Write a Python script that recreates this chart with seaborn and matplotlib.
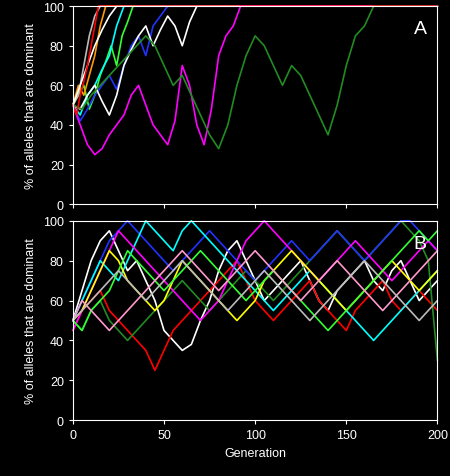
import matplotlib
matplotlib.use("Agg")
import matplotlib.pyplot as plt
import seaborn as sns
import pandas as pd

# --- Panel A: trajectories until fixation (then held at 100) ---
a_red = [50, 45, 55, 62, 70, 80, 90, 100]                      # step 2
a_lime = [50, 55, 60, 48, 55, 65, 72, 80, 70, 85, 92, 100]      # step 3
a_gray = [50, 55, 70, 85, 95, 100]                              # step 3
a_orange = [50, 60, 55, 65, 75, 90, 100]                        # step 3
a_cyan = [50, 45, 55, 60, 68, 75, 90, 100]                      # step 4
a_blue = [50, 42, 48, 55, 60, 65, 58, 70, 80, 85, 75, 90, 95, 100]  # step 4
a_white2 = [50, 60, 70, 80, 88, 95, 100]                        # step 4
a_white = [50, 48, 55, 60, 52, 45, 55, 70, 78, 85, 90, 80, 88, 95, 90,
           80, 92, 100, 100]                                    # step 4
a_magenta = [50, 40, 30, 25, 28, 35, 40, 45, 55, 60, 50, 40, 35, 30, 42,
             70, 60, 40, 30, 48, 75, 85, 90, 100]               # step 4
a_green = [50, 48, 55, 60, 65, 70, 75, 80, 85, 80, 70, 60, 65, 55, 45, 35,
           28, 40, 60, 75, 85, 80, 70, 60, 70, 65, 55, 45, 35, 50, 70, 85,
           90, 100]                                             # step 5

series_a = [
    (a_lime, 3, "#33ff33"), (a_gray, 3, "#bbbbbb"), (a_orange, 3, "#ff9900"),
    (a_cyan, 4, "#00ffff"), (a_blue, 4, "#2233ff"), (a_white2, 4, "#ffffff"),
    (a_white, 4, "#ffffff"), (a_magenta, 4, "#ff00ff"), (a_green, 5, "#228b22"),
    (a_red, 2, "#ff0000"),
]

# --- Panel B: 200 generations, sampled every 5 ---
b_lines = {
    "#ffffff": [50, 65, 80, 90, 95, 85, 75, 80, 70, 60, 45, 40, 35, 38, 50,
                60, 75, 85, 90, 80, 70, 60, 65, 70, 75, 80, 70, 60, 55, 65,
                70, 75, 80, 70, 65, 75, 80, 70, 60, 65, 70],
    "#ff0000": [45, 55, 60, 65, 55, 50, 45, 40, 35, 25, 35, 45, 50, 55, 60,
                65, 70, 75, 80, 70, 60, 55, 50, 55, 60, 65, 70, 60, 55, 50,
                45, 55, 60, 65, 70, 60, 55, 60, 65, 60, 55],
    "#228b22": [50, 45, 55, 60, 50, 45, 40, 45, 50, 55, 60, 65, 70, 65, 60,
                55, 60, 65, 70, 75, 70, 65, 60, 65, 70, 75, 80, 85, 90, 95,
                90, 85, 80, 85, 90, 95, 100, 95, 90, 80, 30],
    "#2233ff": [50, 60, 70, 80, 90, 95, 100, 95, 90, 85, 80, 75, 80, 85, 90,
                95, 90, 85, 80, 75, 70, 75, 80, 85, 90, 85, 80, 85, 90, 95,
                90, 85, 80, 85, 90, 95, 100, 100, 95, 90, 85],
    "#00ffff": [50, 60, 70, 80, 75, 70, 80, 90, 100, 95, 90, 85, 95, 100, 95,
                90, 85, 80, 75, 70, 65, 60, 55, 60, 65, 70, 75, 70, 65, 60,
                55, 50, 45, 40, 45, 50, 55, 60, 65, 70, 75],
    "#ff00ff": [45, 55, 65, 75, 85, 95, 90, 85, 80, 75, 70, 65, 60, 55, 50,
                55, 60, 70, 80, 90, 95, 100, 95, 90, 85, 80, 75, 70, 75, 80,
                85, 90, 85, 80, 75, 70, 75, 80, 85, 90, 85],
    "#ffff00": [50, 55, 65, 75, 85, 80, 70, 65, 60, 55, 60, 70, 80, 75, 70,
                65, 60, 55, 50, 55, 60, 70, 75, 80, 85, 80, 75, 70, 65, 60,
                55, 60, 65, 70, 75, 80, 75, 70, 65, 70, 75],
    "#33ff33": [50, 45, 55, 60, 65, 75, 85, 80, 75, 70, 65, 70, 75, 80, 85,
                80, 75, 70, 65, 60, 65, 70, 75, 70, 65, 60, 55, 50, 45, 50,
                55, 60, 65, 70, 75, 80, 85, 90, 95, 90, 95],
    "#ff99cc": [50, 60, 55, 50, 45, 50, 55, 60, 65, 70, 75, 80, 85, 80, 75,
                70, 65, 70, 75, 80, 85, 80, 75, 70, 65, 60, 65, 70, 75, 80,
                75, 70, 65, 60, 55, 60, 65, 70, 75, 80, 85],
    "#bbbbbb": [50, 55, 60, 65, 70, 75, 70, 65, 60, 65, 70, 75, 80, 75, 70,
                65, 60, 55, 60, 65, 70, 75, 70, 65, 60, 55, 50, 55, 60, 65,
                70, 75, 80, 75, 70, 65, 60, 55, 50, 55, 60],
}

sns.set_style("dark")
plt.rcParams["font.family"] = ["Liberation Sans", "DejaVu Sans"]
fig = plt.figure(figsize=(4.5, 4.77), dpi=100, facecolor="black")
ax_a = fig.add_axes([0.162, 0.570, 0.81, 0.415])
ax_b = fig.add_axes([0.162, 0.117, 0.81, 0.418])

for vals, step, col in series_a:
    gens = [i * step for i in range(len(vals))]
    gens.append(200)
    vals = vals + [100]
    df = pd.DataFrame({"gen": gens, "pct": vals})
    sns.lineplot(data=df, x="gen", y="pct", ax=ax_a, color=col, lw=1.2,
                 clip_on=False)

for col, vals in b_lines.items():
    df = pd.DataFrame({"gen": [i * 5 for i in range(len(vals))], "pct": vals})
    sns.lineplot(data=df, x="gen", y="pct", ax=ax_b, color=col, lw=1.2,
                 clip_on=False)

for ax, letter in [(ax_a, "A"), (ax_b, "B")]:
    ax.set_facecolor("black")
    ax.set_xlim(0, 200)
    ax.set_ylim(0, 100)
    ax.set_yticks(range(0, 101, 20))
    ax.set_xticks(range(0, 201, 50))
    ax.grid(False)
    for s in ax.spines.values():
        s.set_color("white")
        s.set_visible(True)
    ax.tick_params(colors="white", labelsize=9, length=3, direction="out",
                   left=True, bottom=True)
    ax.set_ylabel("% of alleles that are dominant", color="white", fontsize=9)
    ax.set_xlabel("")
    ax.text(0.97, 0.93, letter, transform=ax.transAxes, color="white",
            fontsize=14, ha="right", va="top")

ax_a.set_xticklabels([])
ax_b.set_xlabel("Generation", color="white", fontsize=9)

fig.savefig("out.png", dpi=100, facecolor="black")
